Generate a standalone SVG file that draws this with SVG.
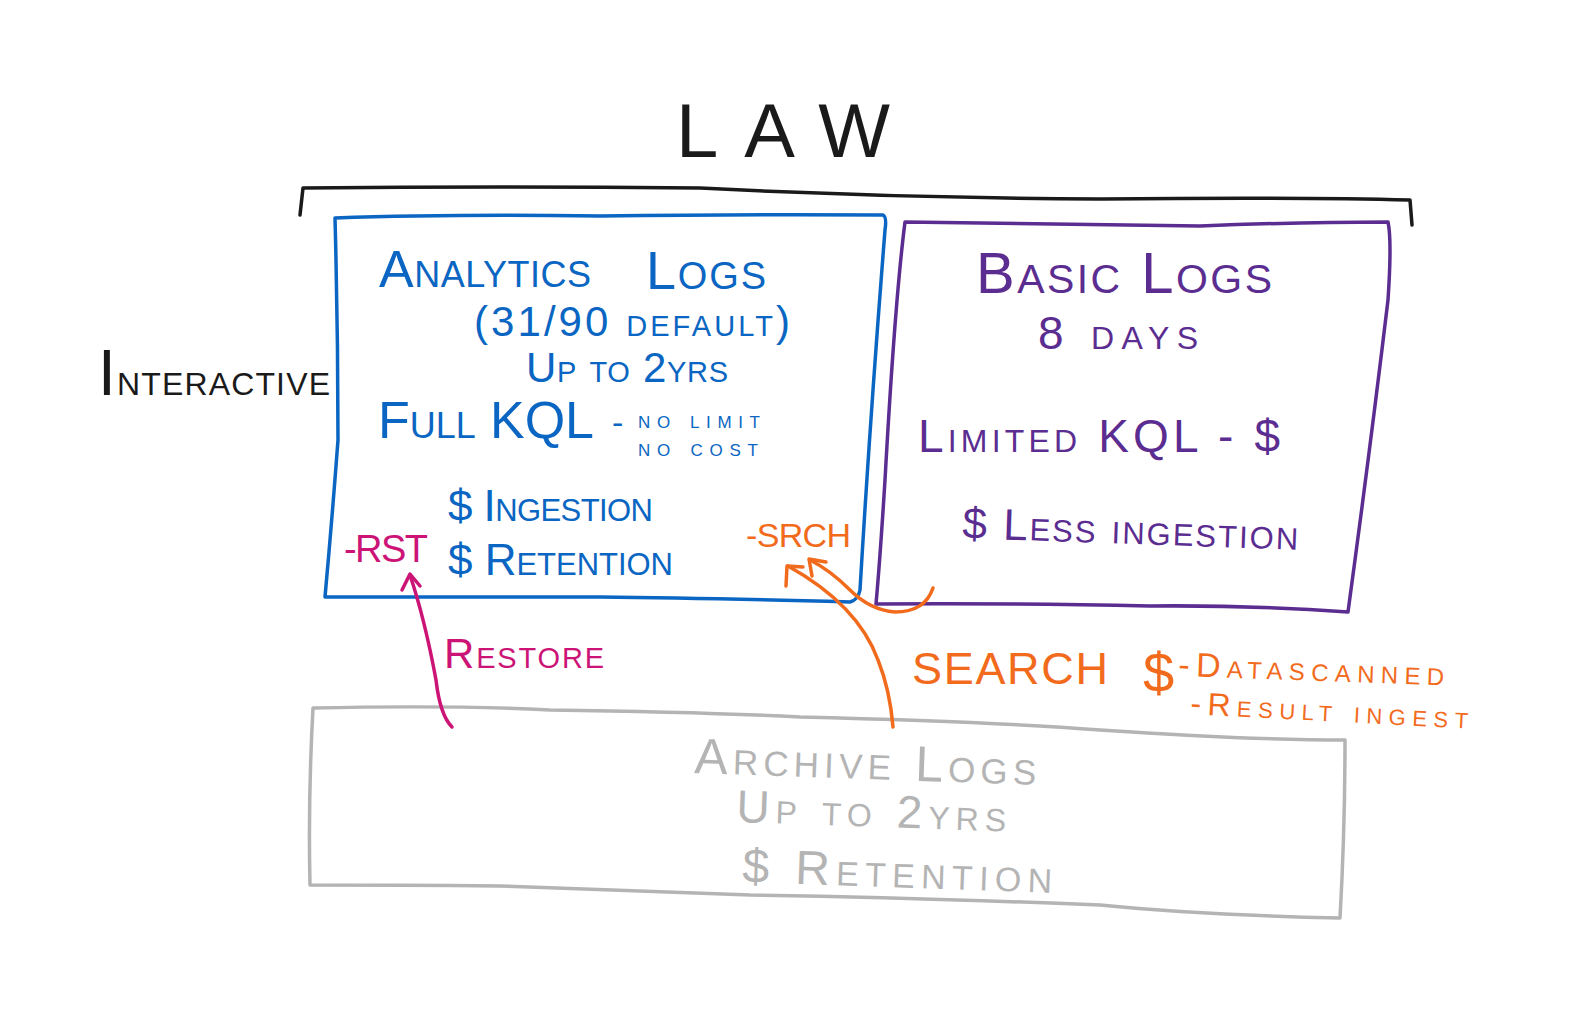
<svg xmlns="http://www.w3.org/2000/svg" width="1570" height="1025" viewBox="0 0 1570 1025">
<style>
text{font-family:"Liberation Sans","DejaVu Sans",sans-serif;font-variant:small-caps}
.k{fill:#1a1a1a}.b{fill:#0a66c2}.p{fill:#5b2d91}.g{fill:#b4b4b4}.o{fill:#f26b1d}.m{fill:#cc1477}
.line{fill:none;stroke-width:3.5;stroke-linecap:round;stroke-linejoin:round}
</style>
<rect width="1570" height="1025" fill="#fff"/>

<g id="title">
<text class="k" x="676" y="157" font-size="76" textLength="214" lengthAdjust="spacing" style="font-variant:normal">LAW</text>
<path class="line" stroke="#1a1a1a" d="M300 215 L303 188 Q500 186 700 188 Q900 198 1100 199 Q1300 197 1410 200 L1412 225"/>
</g>

<g id="interactive">
<text class="k" x="98" y="395" font-size="46" textLength="232" lengthAdjust="spacing"><tspan font-size="64">I</tspan>nteractive</text>
</g>

<g id="analytics">
<path class="line" stroke="#0a66c2" d="M335 218 Q450 214 600 216 Q750 214 883 215 Q887 217 885 230 Q870 420 860 590 Q858 600 850 602 Q700 598 600 597 Q450 597 325 597 Q332 520 338 440 Q338 330 335 218 Z"/>
<text class="b" x="379" y="287" font-size="52" textLength="212" lengthAdjust="spacing">Analytics</text>
<text class="b" x="646" y="289" font-size="54" textLength="120" lengthAdjust="spacing">Logs</text>
<text class="b" x="474" y="336" font-size="42" textLength="316" lengthAdjust="spacing">(31/90 default)</text>
<text class="b" x="526" y="382" font-size="42" textLength="202" lengthAdjust="spacing">Up to 2yrs</text>
<text class="b" x="378" y="438" font-size="52" textLength="216" lengthAdjust="spacing">Full KQL</text>
<text class="b" x="612" y="434" font-size="34">-</text>
<text class="b" x="638" y="428" font-size="24" textLength="122" lengthAdjust="spacing">no limit</text>
<text class="b" x="638" y="456" font-size="24" textLength="120" lengthAdjust="spacing">no cost</text>
<text class="b" x="448" y="521" font-size="44" textLength="205" lengthAdjust="spacing">$ Ingestion</text>
<text class="b" x="448" y="575" font-size="44" textLength="225" lengthAdjust="spacing">$ Retention</text>
</g>

<g id="basic">
<path class="line" stroke="#5b2d91" d="M905 222 Q1050 224 1200 226 Q1300 222 1388 222 Q1392 240 1388 300 Q1370 450 1348 612 Q1250 605 1150 606 Q1000 603 876 604 Q880 560 885 480 Q895 300 905 222 Z"/>
<text class="p" x="976" y="293" font-size="58" textLength="296" lengthAdjust="spacing">Basic Logs</text>
<text class="p" x="1038" y="349" font-size="46" textLength="160" lengthAdjust="spacing">8 days</text>
<text class="p" x="918" y="452" font-size="46" textLength="362" lengthAdjust="spacing">Limited KQL - $</text>
<text class="p" x="962" y="538" font-size="44" textLength="336" lengthAdjust="spacing" transform="rotate(2 962 538)">$ Less ingestion</text>
</g>

<g id="archive">
<path class="line" stroke="#b4b4b4" d="M313 708 Q450 705 550 710 Q700 712 800 717 Q1000 722 1100 730 Q1250 740 1345 740 Q1345 830 1340 918 Q1200 915 1100 905 Q900 897 750 895 Q600 890 500 886 Q400 885 310 885 Q308 800 313 708 Z"/>
<text class="g" x="694" y="773" font-size="50" textLength="342" lengthAdjust="spacing" transform="rotate(2 694 773)">Archive Logs</text>
<text class="g" x="736" y="822" font-size="46" textLength="270" lengthAdjust="spacing" transform="rotate(2 736 822)">Up to 2yrs</text>
<text class="g" x="742" y="882" font-size="48" textLength="310" lengthAdjust="spacing" transform="rotate(2 742 882)">$ Retention</text>
</g>

<g id="restore-label">
<text class="m" x="344" y="562" font-size="38" textLength="84" lengthAdjust="spacing" style="font-variant:normal">-RST</text>
<text class="m" x="444" y="668" font-size="42" textLength="160" lengthAdjust="spacing">Restore</text>
</g>

<g id="search-label">
<text class="o" x="746" y="547" font-size="34" textLength="105" lengthAdjust="spacing" style="font-variant:normal">-SRCH</text>
<text class="o" x="912" y="684" font-size="45" textLength="196" lengthAdjust="spacing" style="font-variant:normal">SEARCH</text>
<text class="o" x="1143" y="692" font-size="56">$</text>
<text class="o" x="1178" y="676" font-size="34" textLength="266" lengthAdjust="spacing" transform="rotate(2 1178 676)">-Datascanned</text>
<text class="o" x="1190" y="714" font-size="32" textLength="278" lengthAdjust="spacing" transform="rotate(3 1190 714)">-Result ingest</text>
</g>

<g id="connectors">
<path class="line" stroke="#cc1477" stroke-width="3" d="M452 727 Q440 715 436 680 Q425 620 410 575"/>
<path class="line" stroke="#cc1477" stroke-width="3" d="M402 590 L410 574 L420 586"/>
<path class="line" stroke="#f26b1d" stroke-width="3" d="M893 727 Q890 690 878 660 Q858 605 788 566"/>
<path class="line" stroke="#f26b1d" stroke-width="3" d="M786 586 L787 566 L803 567"/>
<path class="line" stroke="#f26b1d" stroke-width="3" d="M933 588 Q925 612 895 612 Q870 610 850 590 Q830 570 810 560"/>
<path class="line" stroke="#f26b1d" stroke-width="3" d="M812 576 L809 559 L826 562"/>
</g>
</svg>
